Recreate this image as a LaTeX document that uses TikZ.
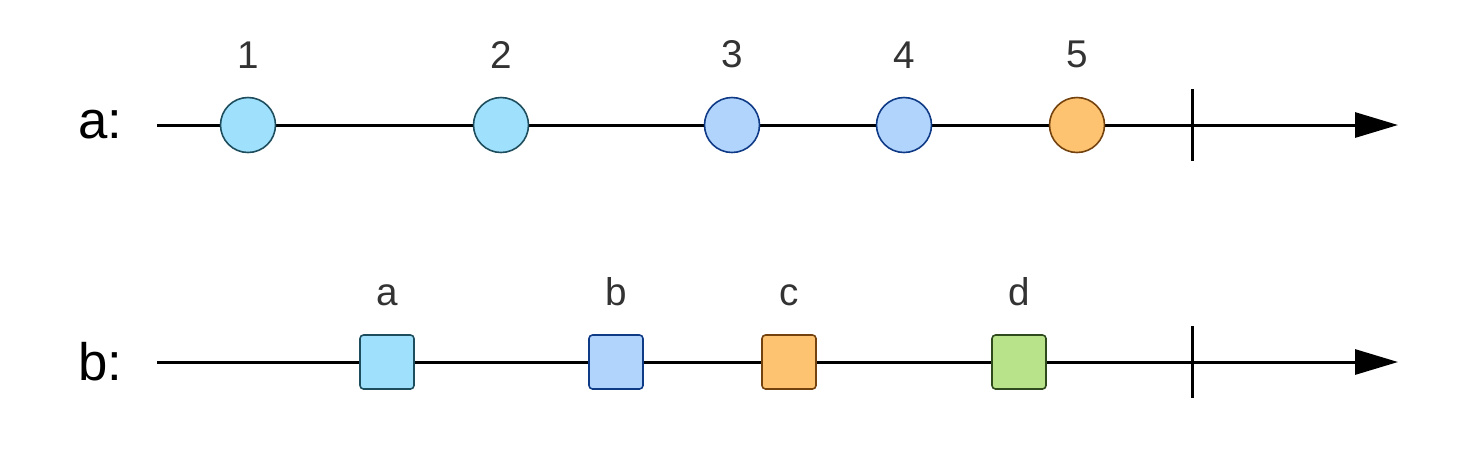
\documentclass[tikz,border=0pt]{standalone}
\usepackage{fontspec}
\setmainfont{Liberation Sans}
\usepackage{xcolor}
\usepackage{tikz}
\usetikzlibrary{arrows.meta, positioning}
\definecolor{ink}{HTML}{333333}
\definecolor{cyanfill}{HTML}{9FE0FC}
\definecolor{cyanline}{HTML}{1E4E5E}
\definecolor{bluefill}{HTML}{B1D4FD}
\definecolor{blueline}{HTML}{0F3A86}
\definecolor{orangefill}{HTML}{FDC371}
\definecolor{orangeline}{HTML}{74420E}
\definecolor{greenfill}{HTML}{B9E38A}
\definecolor{greenline}{HTML}{2F4A1C}

\begin{document}
\begin{tikzpicture}[
  font=\fontsize{11}{13}\selectfont,
  marble/.style={circle, draw, line width=0.45pt, minimum size=0.55cm, inner sep=0pt},
  tile/.style={rectangle, rounded corners=1pt, draw, line width=0.45pt, minimum size=0.54cm, inner sep=0pt},
  timeline/.style={-{Triangle[length=0.43cm, width=0.25cm]}, line width=0.85pt},
  tick/.style={line width=0.85pt},
  tag/.style={text=ink, inner sep=0pt},
  rowname/.style={font=\fontsize{15}{18}\selectfont, text=black},
]
\useasboundingbox (0,0) rectangle (14.84,4.72);

% row a
\node[rowname] (rowa) at (1.00,3.47) {a:};
\coordinate (astart) at (1.57,3.47);
\coordinate (aend) at (13.98,3.47);
\coordinate (atop) at (11.92,3.83);
\coordinate (abot) at (11.92,3.11);
\draw[timeline] (astart) -- (aend);
\draw[tick] (atop) -- (abot);

\node[marble, fill=cyanfill, draw=cyanline] (m1) at (2.48,3.47) {};
\node[marble, fill=cyanfill, draw=cyanline] (m2) at (5.01,3.47) {};
\node[marble, fill=bluefill, draw=blueline] (m3) at (7.32,3.47) {};
\node[marble, fill=bluefill, draw=blueline] (m4) at (9.04,3.47) {};
\node[marble, fill=orangefill, draw=orangeline] (m5) at (10.77,3.47) {};

\node[tag, above=0.28cm of m1] {1};
\node[tag, above=0.28cm of m2] {2};
\node[tag, above=0.28cm of m3] {3};
\node[tag, above=0.28cm of m4] {4};
\node[tag, above=0.28cm of m5] {5};

% row b
\node[rowname] (rowb) at (1.00,1.10) {b:};
\coordinate (bstart) at (1.57,1.10);
\coordinate (bend) at (13.98,1.10);
\coordinate (btop) at (11.92,1.46);
\coordinate (bbot) at (11.92,0.74);
\draw[timeline] (bstart) -- (bend);
\draw[tick] (btop) -- (bbot);

\node[tile, fill=cyanfill, draw=cyanline] (t1) at (3.87,1.10) {};
\node[tile, fill=bluefill, draw=blueline] (t2) at (6.16,1.10) {};
\node[tile, fill=orangefill, draw=orangeline] (t3) at (7.89,1.10) {};
\node[tile, fill=greenfill, draw=greenline] (t4) at (10.19,1.10) {};

\node[tag, above=0.28cm of t1] {a};
\node[tag, above=0.28cm of t2] {b};
\node[tag, above=0.28cm of t3] {c};
\node[tag, above=0.28cm of t4] {d};
\end{tikzpicture}
\end{document}
